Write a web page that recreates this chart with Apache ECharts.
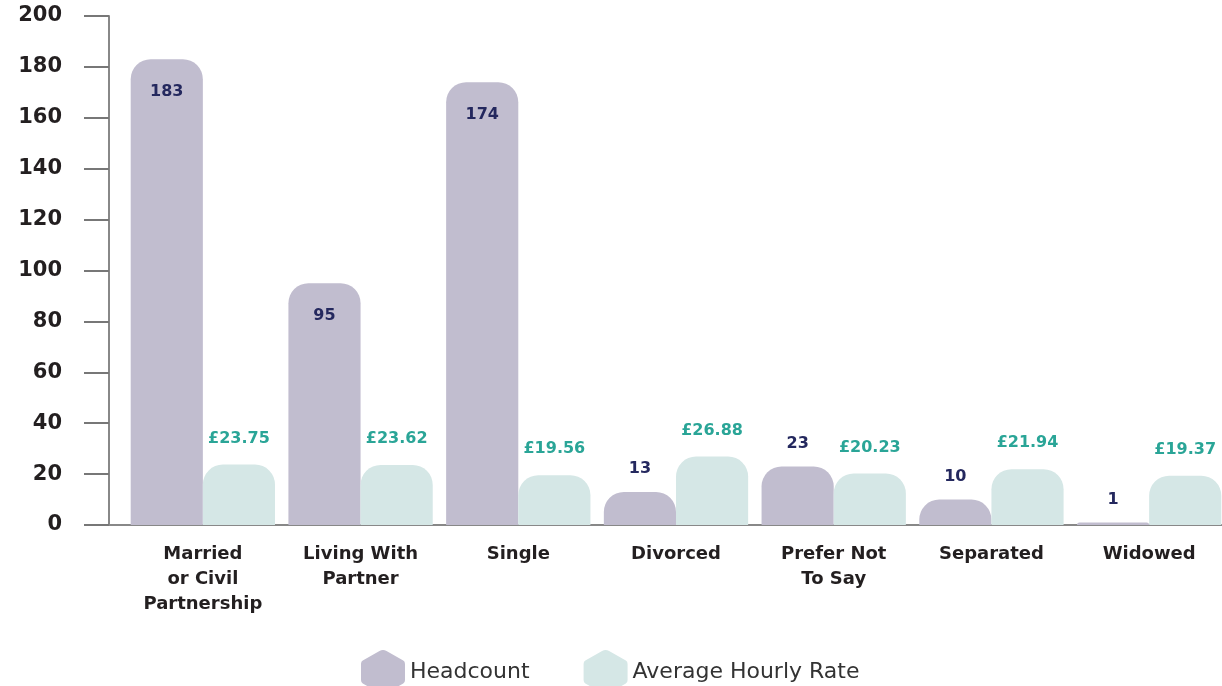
<!DOCTYPE html>
<html>
<head>
<meta charset="utf-8">
<script src="https://cdn.jsdelivr.net/npm/echarts@6/dist/echarts.min.js"></script>
<style>
  html, body { margin: 0; padding: 0; background: #fff; overflow: hidden; }
  #main { width: 1228px; height: 686px; }
</style>
</head>
<body>
<div id="main"></div>
<script>
const categories = ['Married\nor Civil\nPartnership', 'Living With\nPartner', 'Single', 'Divorced', 'Prefer Not\nTo Say', 'Separated', 'Widowed'];
const headcount = [183, 95, 174, 13, 23, 10, 1];
const hourlyRate = [23.75, 23.62, 19.56, 26.88, 20.23, 21.94, 19.37];
const yTicks = [0, 20, 40, 60, 80, 100, 120, 140, 160, 180, 200];

const font = '"DejaVu Sans", sans-serif';
const hexIcon = 'path://M50,0 Q54,0 58,2 L96,24 Q100,26 100,32 L100,68 Q100,74 96,76 L58,98 Q54,100 50,100 Q46,100 42,98 L4,76 Q0,74 0,68 L0,32 Q0,26 4,24 L42,2 Q46,0 50,0 Z';

var chart = echarts.init(document.getElementById('main'));

// big bars carry their label inside, small ones above
const headData = headcount.map(function (v) {
  return {
    value: v,
    label: v > 50
      ? { position: 'insideTop', distance: 25 }
      : { position: 'top', distance: 15 }
  };
});

var option = {
  animation: false,
  grid: { left: 124, right: 0, top: 16, bottom: 161 },
  legend: {
    top: 645,
    left: 356,
    itemWidth: 44,
    itemHeight: 46,
    itemGap: 54,
    icon: hexIcon,
    textStyle: { fontFamily: font, fontSize: 22, color: '#333' },
    data: ['Headcount', 'Average Hourly Rate']
  },
  xAxis: {
    type: 'category',
    data: categories,
    axisLine: { show: true, lineStyle: { color: '#888', width: 2 } },
    axisTick: { show: false },
    axisLabel: {
      margin: 17,
      fontFamily: font,
      fontWeight: 'bold',
      fontSize: 18,
      lineHeight: 25,
      color: '#231f20',
      interval: 0
    }
  },
  yAxis: {
    type: 'value',
    min: yTicks[0],
    max: yTicks[yTicks.length - 1],
    interval: 20,
    offset: 15,
    axisLine: { show: true, lineStyle: { color: '#888', width: 2 } },
    axisTick: { show: true, length: 25, lineStyle: { color: '#777', width: 2 } },
    splitLine: { show: false },
    axisLabel: {
      margin: 47,
      fontFamily: font,
      fontWeight: 'bold',
      fontSize: 21,
      color: '#231f20'
    }
  },
  graphic: [{
    type: 'line',
    shape: { x1: 84, y1: 525, x2: 124, y2: 525 },
    style: { stroke: '#888', lineWidth: 2 }
  }],
  series: [
    {
      name: 'Headcount',
      type: 'bar',
      barGap: '0%',
      barCategoryGap: '8.5%',
      itemStyle: { color: '#c1bdcf', borderRadius: [20, 20, 0, 0] },
      label: {
        show: true,
        fontFamily: font,
        fontWeight: 'bold',
        fontSize: 16,
        color: '#24285e'
      },
      data: headData
    },
    {
      name: 'Average Hourly Rate',
      type: 'bar',
      itemStyle: { color: '#d5e7e6', borderRadius: [20, 20, 0, 0] },
      label: {
        show: true,
        position: 'top',
        distance: 18,
        fontFamily: font,
        fontWeight: 'bold',
        fontSize: 16,
        color: '#2aa597',
        formatter: function (p) { return '£' + p.value.toFixed(2); }
      },
      data: hourlyRate
    }
  ]
};

chart.setOption(option, true);
</script>
</body>
</html>
